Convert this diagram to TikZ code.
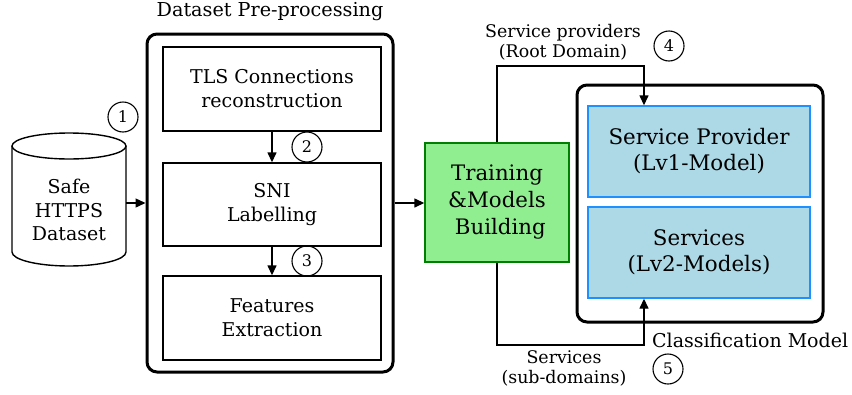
\documentclass[tikz,border=0pt]{standalone}
\usepackage{fontspec}
\setmainfont{DejaVu Serif}
\usetikzlibrary{arrows.meta}
\definecolor{lgreen}{RGB}{144,238,144}
\definecolor{dgreen}{RGB}{0,128,0}
\definecolor{lblue}{RGB}{173,216,230}
\definecolor{dblue}{RGB}{30,144,255}
\begin{document}
\begin{tikzpicture}[x=1pt,y=-1pt,
  outer/.style={draw, line width=3pt, rounded corners=10pt, minimum width=246pt, inner sep=0pt},
  stepbox/.style={draw, line width=1.4pt, minimum width=218pt, minimum height=84pt, align=center, inner sep=0pt, font=\fontsize{19}{24}\selectfont},
  modelbox/.style={draw=dblue, fill=lblue, line width=1.4pt, minimum width=222pt, minimum height=91pt, align=center, inner sep=0pt, font=\fontsize{21.4}{26}\selectfont},
  num/.style={draw, circle, line width=1.1pt, minimum size=30pt, inner sep=0pt, font=\fontsize{16}{18}\selectfont},
  lbl/.style={align=center, inner sep=0pt, font=\fontsize{17.4}{20}\selectfont},
  arr/.style={-{Triangle[length=10pt,width=9pt]}, line width=1.4pt}]
\useasboundingbox (0,0) rectangle (852,394);

% dataset cylinder
\draw[line width=1.4pt, fill=white] (12,146) -- (12,252) arc[start angle=180, end angle=360, x radius=57pt, y radius=14pt] -- (126,146);
\draw[line width=1.4pt] (69,146) ellipse[x radius=57pt, y radius=13pt];
\node[align=center, inner sep=0pt, minimum width=114pt, font=\fontsize{19}{23.5}\selectfont] (ds) at (69,210) {Safe\\HTTPS\\Dataset};

% pre-processing
\node[outer, minimum height=338pt] (pre) at (270,203) {};
\node[lbl, font=\fontsize{19.2}{22}\selectfont] (pretitle) at (270,12) {Dataset Pre-processing};
\node[stepbox] (tls) at (272,89) {TLS Connections\\reconstruction};
\node[stepbox, minimum height=83pt] (sni) at (272,204.5) {SNI\\Labelling};
\node[stepbox] (feat) at (272,318) {Features\\Extraction};

% training
\node[draw=dgreen, fill=lgreen, line width=1.4pt, minimum width=144pt, minimum height=119pt, align=center, inner sep=0pt, font=\fontsize{21.3}{27}\selectfont] (train) at (497,202.5) {Training\\\&Models\\\ Building};

% classification
\node[outer, minimum height=237pt] (cls) at (700,203.5) {};
\node[modelbox] (sp) at (699,151.5) {Service Provider\\(Lv1-Model)};
\node[modelbox] (sv) at (699,252.5) {Services\\(Lv2-Models)};
\node[lbl, anchor=west, font=\fontsize{19}{22}\selectfont] (clstitle) at (652,340) {Classification Model};

% circles
\node[num] (n1) at (123,117) {1};
\node[num] (n2) at (307,147) {2};
\node[num] (n3) at (307,261) {3};
\node[num] (n4) at (669,46) {4};
\node[num] (n5) at (668,369) {5};

% labels
\node[lbl] (lsp) at (563,42) {Service providers\\(Root Domain)};
\node[lbl] (lsv) at (564,368) {Services\\(sub-domains)};

% connectors
\draw[arr] (ds.east |- pre.west) -- (pre.west);
\draw[arr] (tls.south) -- (sni.north);
\draw[arr] (sni.south) -- (feat.north);
\draw[arr] (pre.east) -- (pre.east -| train.west);
\draw[arr] (train.north) -- (train.north |- 0,66) -| ([xshift=-55pt]sp.north);
\draw[arr] (train.south) -- (train.south |- 0,345) -| ([xshift=-55pt]sv.south);
\end{tikzpicture}
\end{document}
